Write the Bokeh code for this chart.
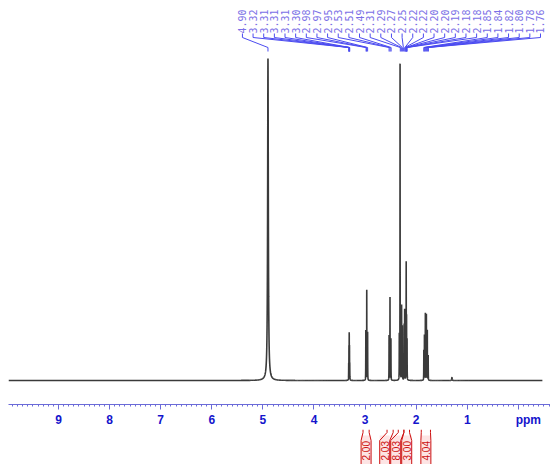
import numpy as np
from bokeh.plotting import figure
from bokeh.models import Range1d, FixedTicker
from bokeh.layouts import column
from bokeh.embed import file_html
from bokeh.resources import INLINE
from bokeh.core.properties import value

# ---------------- data ----------------
# resonance lines (ppm, height, half width)
peak_ppm = [4.900, 3.320, 3.315, 3.310, 3.305, 3.300,
            2.985, 2.967, 2.950, 2.530, 2.512, 2.494,
            2.330, 2.315, 2.285, 2.270, 2.235, 2.225, 2.195, 2.188, 2.178,
            1.850, 1.838, 1.820, 1.800, 1.782, 1.765, 1.300]
peak_height = [322, 14, 30, 43, 30, 14,
               50, 91, 48, 45, 83, 42,
               45, 320, 75, 54, 55, 70, 116, 60, 40,
               30, 45, 67, 66, 50, 25, 3]
peak_hwhm = [0.008, 0.0015, 0.0015, 0.0015, 0.0015, 0.0015,
             0.0015, 0.0015, 0.0015, 0.0015, 0.0015, 0.0015,
             0.0015, 0.0015, 0.0015, 0.0015, 0.0015, 0.0015, 0.0015, 0.0015, 0.0015,
             0.0015, 0.0015, 0.0015, 0.0015, 0.0015, 0.0015, 0.005]

# peak picking labels
peak_labels = [4.90, 3.32, 3.31, 3.31, 3.31, 3.30, 2.98, 2.97, 2.95,
               2.53, 2.51, 2.49, 2.31, 2.29, 2.27, 2.25, 2.22, 2.22,
               2.20, 2.20, 2.19, 2.18, 2.18, 1.85, 1.84, 1.82, 1.80, 1.78, 1.76]

# integrals
integral_values = [2.00, 2.03, 8.03, 3.00, 4.04]
integral_from = [3.04, 2.57, 2.35, 2.24, 1.90]
integral_to = [2.92, 2.45, 2.24, 2.13, 1.72]

# axis
tick_values = [9, 8, 7, 6, 5, 4, 3, 2, 1]
tick_labels = ["9", "8", "7", "6", "5", "4", "3", "2", "1"]
unit_label = "ppm"

# ---------------- layout constants ----------------
X_LEFT, X_RIGHT = 9.978, -0.629
SPEC_END = -0.47
PAD = 8
W = 542
PX_PER_PPM = W / (X_LEFT - X_RIGHT)
TOP_FRAME_H = 396
LABEL_X0, LABEL_X1 = 5.40, -0.433          # spread of the peak labels (ppm)
SPEC_COLOR = "#3a3a3a"
LABEL_COLOR = "#7a6fe6"
LINK_COLOR = "#4b4bf0"
AXIS_COLOR = "#6b6bd8"
TICKLAB_COLOR = "#1414cc"
INT_COLOR = "#cc1010"
INT_FILL = "#fde4e4"

# ---------------- spectrum ----------------
x = np.linspace(X_LEFT, SPEC_END, 30000)
y = np.zeros_like(x)
for x0, h, g in zip(peak_ppm, peak_height, peak_hwhm):
    y += h * g * g / ((x - x0) ** 2 + g * g)

p = figure(frame_width=W, frame_height=TOP_FRAME_H,
           x_range=Range1d(X_LEFT, X_RIGHT), y_range=Range1d(-24, 372),
           output_backend="svg", toolbar_location=None,
           y_axis_location=None, min_border=0,
           min_border_left=PAD, min_border_top=PAD, outline_line_color=None)
p.xgrid.visible = False
p.ygrid.visible = False

p.line(x, y, line_color=SPEC_COLOR, line_width=1.6)

# peak labels
n = len(peak_labels)
lab_x = np.linspace(LABEL_X0, LABEL_X1, n)
p.text(x=lab_x, y=[347] * n, text=[f"{v:.2f}" for v in peak_labels],
       angle=np.pi / 2, text_align="left", text_baseline="middle",
       text_font=value("DejaVu Sans Mono"), text_font_size="10px",
       text_color=LABEL_COLOR)
xs = [[lx, lx, pk, pk] for lx, pk in zip(lab_x, peak_labels)]
ys = [[347, 343, 333, 329] for _ in peak_labels]
p.multi_line(xs, ys, line_color=LINK_COLOR, line_width=1)

# axis
ax = p.xaxis[0]
ax.ticker = FixedTicker(ticks=tick_values + [0],
                        minor_ticks=list(np.round(np.arange(-0.6, 9.95, 0.1), 1)))
overrides = {t: l for t, l in zip(tick_values, tick_labels)}
overrides[0] = "\u00a0" * 6 + unit_label
ax.major_label_overrides = overrides
ax.axis_line_color = AXIS_COLOR
ax.major_tick_line_color = AXIS_COLOR
ax.minor_tick_line_color = AXIS_COLOR
ax.major_tick_in = 0
ax.major_tick_out = 5
ax.minor_tick_in = 0
ax.minor_tick_out = 2
ax.major_label_standoff = 3
ax.major_label_text_font = "Liberation Sans"
ax.major_label_text_font_size = "12px"
ax.major_label_text_font_style = "bold"
ax.major_label_text_color = TICKLAB_COLOR

# ---------------- integrals strip ----------------
STRIP_H = 36
p2 = figure(frame_width=W, frame_height=STRIP_H,
            x_range=p.x_range, y_range=Range1d(STRIP_H, 0),
            output_backend="svg", toolbar_location=None,
            x_axis_location=None, y_axis_location=None,
            min_border=0, min_border_left=PAD, outline_line_color=None)
p2.xgrid.visible = False
p2.ygrid.visible = False

centers = [(a + b) / 2 for a, b in zip(integral_from, integral_to)]
gap = 11 / PX_PER_PPM
# place labels right-to-left, pushing left when they would overlap
lab2 = [0.0] * len(centers)
for i in range(len(centers) - 1, -1, -1):
    if i == len(centers) - 1:
        lab2[i] = centers[i]
    else:
        lab2[i] = max(centers[i], lab2[i + 1] + gap)

half = 5 / PX_PER_PPM
p2.quad(left=[c + half for c in lab2], right=[c - half for c in lab2],
        top=[6] * len(lab2), bottom=[STRIP_H] * len(lab2),
        fill_color=INT_FILL, line_color=None)
bx, by = [], []
for c, a, b in zip(lab2, integral_from, integral_to):
    bx.append([a, a, c + half, c + half])
    by.append([0, 3, 11, STRIP_H])
    bx.append([b, b, c - half, c - half])
    by.append([0, 3, 11, STRIP_H])
p2.multi_line(bx, by, line_color=INT_COLOR, line_width=1)
p2.text(x=lab2, y=[31] * len(lab2), text=[f"{v:.2f}" for v in integral_values],
        angle=np.pi / 2, text_align="left", text_baseline="middle",
        text_font=value("Liberation Sans"), text_font_size="10px",
        text_color=INT_COLOR)

layout = column(p, p2, spacing=0)
open("out.html", "w").write(file_html(layout, INLINE))
